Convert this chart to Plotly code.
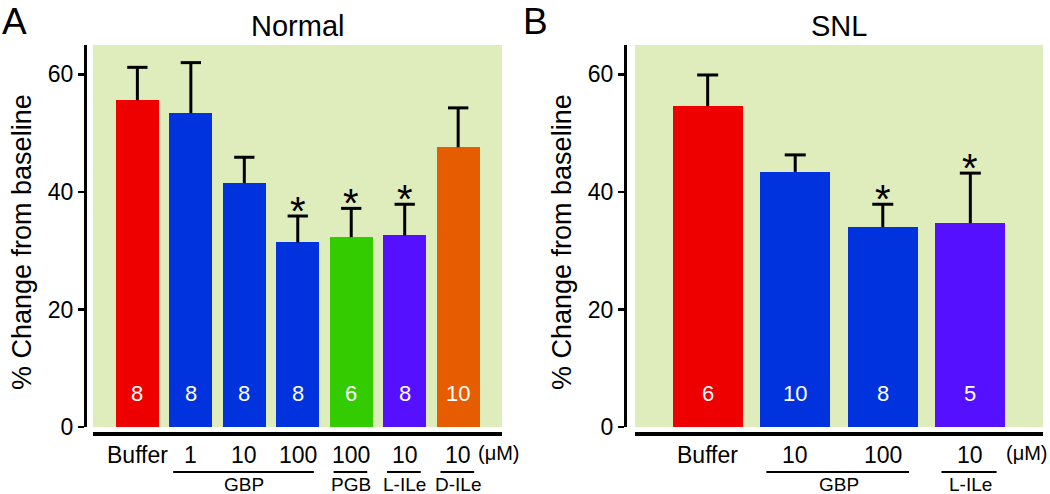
import plotly.graph_objects as go

# ---------------- data ----------------
a_labels = ["Buffer", "1", "10", "100", "100", "10", "10"]
a_values = [55.6, 53.4, 41.5, 31.4, 32.3, 32.6, 47.6]
a_errors = [5.6, 8.6, 4.4, 4.5, 4.9, 5.3, 6.7]
a_n = ["8", "8", "8", "8", "6", "8", "10"]
a_sig = [False, False, False, True, True, True, False]
a_colors = ["#EE0000", "#0033DD", "#0033DD", "#0033DD", "#33CC00", "#5511FF", "#E65C00"]
a_groups = [("GBP", 1, 3), ("PGB", 4, 4), ("L-ILe", 5, 5), ("D-ILe", 6, 6)]

b_labels = ["Buffer", "10", "100", "10"]
b_values = [54.6, 43.4, 34.0, 34.7]
b_errors = [5.3, 2.9, 3.9, 8.5]
b_n = ["6", "10", "8", "5"]
b_sig = [False, False, True, True]
b_colors = ["#EE0000", "#0033DD", "#0033DD", "#5511FF"]
b_groups = [("GBP", 1, 2), ("L-ILe", 3, 3)]

y_ticks = [0, 20, 40, 60]
unit = "(μM)"
y_title = "% Change from baseline"

# ---------------- layout helpers ----------------
W, H = 1050, 494
FONT = "Liberation Sans, Arial, sans-serif"
BG = "#DFEDBD"


def px(x):
    return x / W


def py(y):
    return 1 - y / H


fig = go.Figure()

panels = [
    dict(lab=a_labels, val=a_values, err=a_errors, n=a_n, sig=a_sig, col=a_colors,
         grp=a_groups, xa="x", ya="y", title="Normal", letter="A"),
    dict(lab=b_labels, val=b_values, err=b_errors, n=b_n, sig=b_sig, col=b_colors,
         grp=b_groups, xa="x2", ya="y2", title="SNL", letter="B"),
]

geo = {
    "A": dict(title_x=297.5, letter_x=14, ytitle_x=22,
              xr=[-0.83, 6.82], unit_px=499, cap=0.19),
    "B": dict(title_x=839, letter_x=535, ytitle_x=562,
              xr=[-0.83, 3.83], unit_px=1027, cap=0.12),
}

annotations = []
shapes = []

for p in panels:
    g = geo[p["letter"]]
    xs = list(range(len(p["val"])))
    fig.add_trace(go.Bar(
        x=xs, y=p["val"], marker=dict(color=p["col"], line=dict(width=0)), width=0.8,
        xaxis=p["xa"], yaxis=p["ya"], showlegend=False, hoverinfo="skip",
    ))
    # upward-only error bars (stem + cap)
    ex, ey = [], []
    for i, (v, e) in enumerate(zip(p["val"], p["err"])):
        ex += [i, i, None, i - g["cap"], i + g["cap"], None]
        ey += [v, v + e, None, v + e, v + e, None]
    fig.add_trace(go.Scatter(x=ex, y=ey, mode="lines", line=dict(color="black", width=3),
                             xaxis=p["xa"], yaxis=p["ya"], showlegend=False,
                             hoverinfo="skip"))
    # n labels inside bars
    for i, n in enumerate(p["n"]):
        annotations.append(dict(x=i, y=py(393), xref=p["xa"], yref="paper", text=n,
                                showarrow=False, xanchor="center", yanchor="middle",
                                font=dict(color="white", size=22, family=FONT)))
    # significance stars
    for i, s in enumerate(p["sig"]):
        if s:
            annotations.append(dict(x=i, y=p["val"][i] + p["err"][i], xref=p["xa"], yref=p["ya"],
                                    text="*", showarrow=False, xanchor="center",
                                    yanchor="middle", yshift=5,
                                    font=dict(color="black", size=40, family=FONT)))
    # category labels
    for i, lab in enumerate(p["lab"]):
        annotations.append(dict(x=i, y=py(455), xref=p["xa"], yref="paper", text=lab,
                                showarrow=False, xanchor="center", yanchor="middle",
                                font=dict(color="black", size=23, family=FONT)))
    annotations.append(dict(x=px(g["unit_px"]), y=py(453), xref="paper", yref="paper",
                            text=unit, showarrow=False, yanchor="middle", xanchor="center",
                            borderpad=0,
                            font=dict(color="black", size=20, family=FONT)))
    # groups
    for name, i0, i1 in p["grp"]:
        shapes.append(dict(type="line", xref=p["xa"], yref="paper",
                           x0=i0 - 0.33, x1=i1 + 0.3, y0=py(472), y1=py(472),
                           line=dict(color="black", width=2)))
        annotations.append(dict(x=(i0 + i1) / 2, y=py(484), xref=p["xa"], yref="paper", text=name,
                                showarrow=False, xanchor="center", yanchor="middle",
                                font=dict(color="black", size=19, family=FONT)))
    # titles
    annotations.append(dict(x=px(g["title_x"]), y=py(26), xref="paper", yref="paper",
                            text=p["title"], showarrow=False, xanchor="center",
                            yanchor="middle",
                            font=dict(color="black", size=29, family=FONT)))
    annotations.append(dict(x=px(g["letter_x"]), y=py(21), xref="paper", yref="paper",
                            text=p["letter"], showarrow=False, xanchor="center",
                            yanchor="middle",
                            font=dict(color="black", size=37, family=FONT)))
    # y-axis title
    annotations.append(dict(x=px(g["ytitle_x"]), y=py(242), xref="paper", yref="paper",
                            text=y_title, textangle=-90, showarrow=False,
                            xanchor="center", yanchor="middle",
                            font=dict(color="black", size=27, family=FONT)))

axis_common_y = dict(range=[0, 65], domain=[py(427), py(45)], anchor="free",
                     showline=True, linewidth=3, linecolor="black", mirror=False,
                     ticks="outside", ticklen=6, tickwidth=2.5, tickcolor="black",
                     tickvals=y_ticks, showgrid=False, zeroline=False, automargin=False,
                     tickfont=dict(size=23, family=FONT, color="black"))
axis_common_x = dict(anchor="free", position=py(433), showline=True, linewidth=3.5,
                     linecolor="black", showticklabels=False, ticks="", showgrid=False,
                     zeroline=False, automargin=False)

fig.update_layout(
    width=W, height=H, autosize=False,
    margin=dict(l=0, r=0, t=0, b=0, pad=0, autoexpand=False),
    paper_bgcolor="white", plot_bgcolor=BG,
    font=dict(family=FONT, color="black"),
    xaxis=dict(domain=[px(93), px(502)], range=geo["A"]["xr"], **axis_common_x),
    xaxis2=dict(domain=[px(635), px(1043)], range=geo["B"]["xr"], **axis_common_x),
    yaxis=dict(position=px(85), **axis_common_y),
    yaxis2=dict(position=px(625), **axis_common_y),
    annotations=annotations, shapes=shapes, bargap=0,
)

fig.write_html(
    "out.html",
    config={"displayModeBar": False, "staticPlot": True},
    post_script="document.body.style.margin='0px';document.body.style.overflow='hidden';",
)
